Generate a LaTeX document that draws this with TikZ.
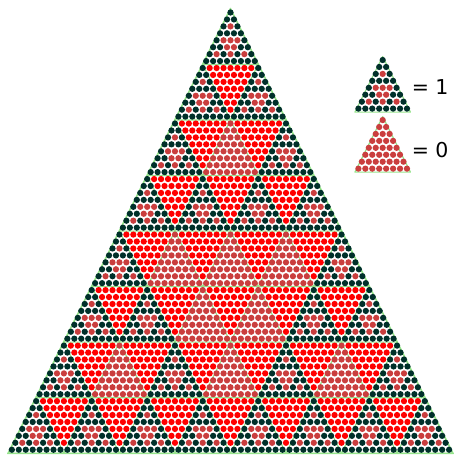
\documentclass[tikz,border=0pt]{standalone}
\usepackage{fontspec}
\setmainfont{DejaVu Sans}
\definecolor{onedot}{RGB}{0,48,42}
\definecolor{zerodot}{RGB}{202,62,62}
\definecolor{holedot}{RGB}{255,0,0}
\definecolor{blockedge}{RGB}{150,228,140}

\begin{document}
\begin{tikzpicture}[x=0.25cm,y=0.25cm]
                \useasboundingbox (-33.21,1.8) rectangle (32.2,-63.76);
                \tikzstyle{blockline}=[draw=blockedge,line width=1.2pt,line join=round]
                % #1,#2 = apex dot, #3 = 1 for a pascal block, 0 for an empty one
                \newcommand\block[3]{%
                  \draw[blockline] (#1,#2+0.5) -- (#1-4,#2-7.5) -- (#1+4,#2-7.5) -- cycle;
                  \foreach \i in {0,...,7} {
                    \foreach \j in {0,...,\i} {
                      \pgfmathtruncatemacro\b{\i-\j}
                      \pgfmathtruncatemacro\hit{mod(\j,2)*mod(\b,2)+mod(floor(\j/2),2)*mod(floor(\b/2),2)+mod(floor(\j/4),2)*mod(floor(\b/4),2)}
                      \ifnum#3=1 \ifnum\hit=0 \def\col{onedot}\else\def\col{zerodot}\fi
                      \else \def\col{zerodot}\fi
                      \fill[\col] ({#1+\j-\i/2},{#2-\i}) circle (0.113cm);
                    }
                  }
                }
                % outer triangle
                \draw[blockline] (0,0.6) -- (-32.1,-63.55) -- (32.1,-63.55) -- cycle;
                % upward blocks
                \foreach \I in {0,...,7} {
                  \foreach \J in {0,...,\I} {
                    \pgfmathtruncatemacro\B{\I-\J}
                    \pgfmathtruncatemacro\hitb{mod(\J,2)*mod(\B,2)+mod(floor(\J/2),2)*mod(floor(\B/2),2)+mod(floor(\J/4),2)*mod(floor(\B/4),2)}
                    \pgfmathtruncatemacro\odd{\hitb==0 ? 1 : 0}
                    \block{8*\J-4*\I}{-8*\I}{\odd}
                  }
                }
                % downward blocks
                \foreach \I in {1,...,7} {
                  \foreach \J in {1,...,\I} {
                    \foreach \i in {0,...,6} {
                      \pgfmathtruncatemacro\js{\i+1}
                      \foreach \j in {\js,...,7} {
                        \fill[holedot] ({8*(\J-1)+\j-(8*\I+\i)/2},{-8*\I-\i}) circle (0.113cm);
                      }
                    }
                  }
                }
                % key
                \block{21.93}{-6.85}{1}
                \block{21.93}{-15.5}{0}
                \node[anchor=west,inner sep=0pt,font=\fontsize{21}{24}\selectfont] (keyone) at (26.1,-10.7) {= 1};
                \node[anchor=west,inner sep=0pt,font=\fontsize{21}{24}\selectfont] (keyzero) at (26.1,-19.8) {= 0};
            \end{tikzpicture}
\end{document}
